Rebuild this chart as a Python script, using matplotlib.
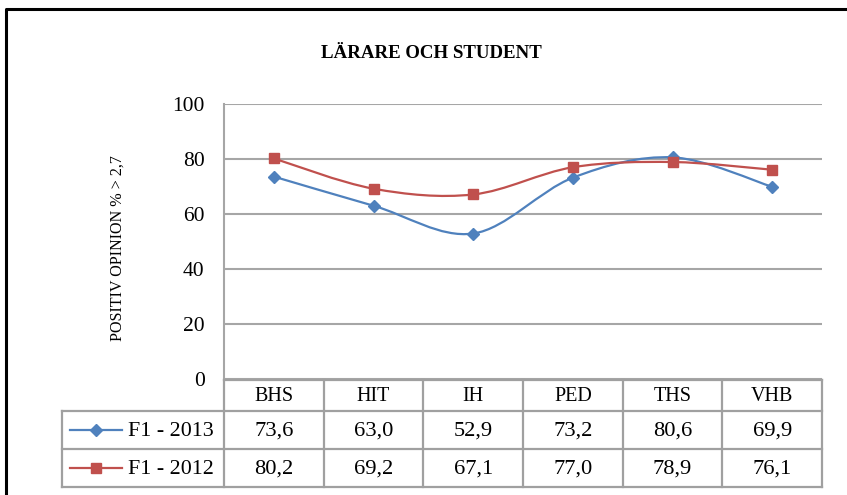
import matplotlib
matplotlib.use("Agg")
import matplotlib.pyplot as plt
from matplotlib.lines import Line2D
from matplotlib.path import Path
from matplotlib.patches import PathPatch
import numpy as np

categories = ["BHS", "HIT", "IH", "PED", "THS", "VHB"]
f1_2013 = [73.6, 63.0, 52.9, 73.2, 80.6, 69.9]
f1_2012 = [80.2, 69.2, 67.1, 77.0, 78.9, 76.1]
series_names = ["F1 - 2013", "F1 - 2012"]
yticks = [0, 20, 40, 60, 80, 100]
title = "LÄRARE OCH STUDENT"
ylabel = "POSITIV OPINION % > 2,7"

W, H = 847, 495
fig = plt.figure(figsize=(W / 100, H / 100), dpi=100)
FONT = "Liberation Serif"

def fx(x):
    return x / W

def fy(y):
    return 1 - y / H

L, R, T, B = 224, 822, 104, 379
ax = fig.add_axes([fx(L), fy(B), fx(R) - fx(L), fy(T) - fy(B)])
ax.set_xlim(-0.5, len(categories) - 0.5)
ax.set_ylim(0, 100)
ax.set_yticks(yticks)
ax.set_yticklabels([str(v) for v in yticks], fontfamily=FONT, fontsize=15.5)
ax.set_xticks([])
ax.tick_params(axis="y", length=0, pad=14)
for s in ["top", "right", "bottom"]:
    ax.spines[s].set_visible(False)
ax.spines["left"].set_color("#A6A6A6")
ax.spines["left"].set_linewidth(1.5)
grid_c = "#A6A6A6"
for v in yticks:
    ax.axhline(v, color=grid_c, lw=1.5, zorder=0)

def smooth_path(xs, ys):
    P = np.column_stack([xs, ys]).astype(float)
    n = len(P)
    verts = [P[0]]
    codes = [Path.MOVETO]
    for i in range(n - 1):
        p0 = P[i - 1] if i > 0 else P[i]
        p1 = P[i]
        p2 = P[i + 1]
        p3 = P[i + 2] if i + 2 < n else P[i + 1]
        c1 = p1 + (p2 - p0) / 6.0
        c2 = p2 - (p3 - p1) / 6.0
        verts += [c1, c2, p2]
        codes += [Path.CURVE4] * 3
    return Path(verts, codes)

xs = np.arange(len(categories))
colors = ["#4F81BD", "#C0504D"]
markers = ["D", "s"]
msizes = [6.5, 7.5]
for vals, c, m, ms in zip([f1_2013, f1_2012], colors, markers, msizes):
    ax.add_patch(PathPatch(smooth_path(xs, vals), facecolor="none", edgecolor=c, lw=1.6, zorder=3))
    ax.plot(xs, vals, linestyle="none", marker=m, markersize=ms, color=c, zorder=4)

# y label
fig.text(fx(118), fy(248), ylabel, rotation=90, ha="center", va="center",
         fontfamily=FONT, fontsize=11.6)
# title
fig.text(fx(431), fy(54), title, ha="center", va="center",
         fontfamily=FONT, fontsize=13.6, fontweight="bold")

# table
tc = "#A0A0A0"
tlw = 1.6
def hline(x0, x1, y):
    fig.add_artist(Line2D([fx(x0), fx(x1)], [fy(y), fy(y)], color=tc, lw=tlw))
def vline(x, y0, y1):
    fig.add_artist(Line2D([fx(x), fx(x)], [fy(y0), fy(y1)], color=tc, lw=tlw))

ncol = len(categories)
colw = (R - L) / ncol
row_y = [380, 411, 449, 487]
legL = 62
hline(L, R, row_y[0])
hline(legL, R, row_y[1])
hline(legL, R, row_y[2])
hline(legL, R, row_y[3])
vline(legL, row_y[1], row_y[3])
for i in range(ncol + 1):
    vline(L + i * colw, row_y[0], row_y[3])

for i, cat in enumerate(categories):
    cx = L + (i + 0.5) * colw
    fig.text(fx(cx), fy((row_y[0] + row_y[1]) / 2 + 1), cat, ha="center", va="center",
             fontfamily=FONT, fontsize=14.5)
for r, vals in enumerate([f1_2013, f1_2012]):
    cy = (row_y[r + 1] + row_y[r + 2]) / 2 + 1
    for i, v in enumerate(vals):
        cx = L + (i + 0.5) * colw
        fig.text(fx(cx), fy(cy), f"{v:.1f}".replace(".", ","), ha="center", va="center",
                 fontfamily=FONT, fontsize=16.2)
    fig.add_artist(Line2D([fx(70), fx(122)], [fy(cy - 1), fy(cy - 1)], color=colors[r], lw=1.6))
    fig.add_artist(Line2D([fx(96)], [fy(cy - 1)], marker=markers[r], markersize=msizes[r],
                          color=colors[r], linestyle="none"))
    fig.text(fx(128), fy(cy), series_names[r], ha="left", va="center",
             fontfamily=FONT, fontsize=15.8)

# outer border
fig.add_artist(Line2D([fx(6), fx(6), fx(847)], [fy(495), fy(9), fy(9)], color="black", lw=2.2))

fig.savefig("out.png", dpi=100)
